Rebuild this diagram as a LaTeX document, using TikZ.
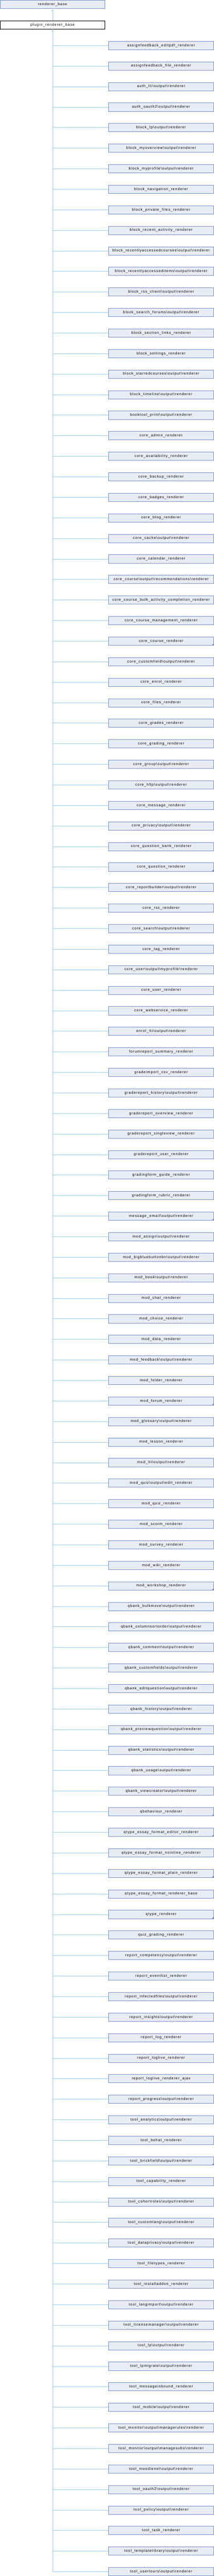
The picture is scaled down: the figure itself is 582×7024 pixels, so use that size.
\documentclass[tikz,border=0pt]{standalone}
\usepackage{fontspec}
\setmainfont[LetterSpace=12]{Liberation Sans}
\usetikzlibrary{arrows.meta}
\definecolor{boxfill}{RGB}{232,236,245}
\definecolor{boxline}{RGB}{122,146,200}
\definecolor{connline}{RGB}{155,205,234}
\newcommand{\bsl}{\textbackslash}
\begin{document}
\begin{tikzpicture}[x=1pt,y=-1pt,
  cls/.style={draw=boxline, fill=boxfill, line width=1pt, minimum width=285.3pt,
    minimum height=22.6pt, inner sep=0pt, font=\fontsize{10pt}{12pt}\selectfont, text=black},
  cur/.style={cls, draw=black, fill=white},
  conn/.style={draw=connline, line width=1pt},
  tip/.style={{Triangle[width=5pt,length=4.5pt]}-}]
\useasboundingbox (0,0) rectangle (582,7024);
\node[cls] (rb) at (143.15,12) {renderer\_base};
\node[cur] (prb) at (143.15,68) {plugin\_renderer\_base};
\draw[conn,tip] ([yshift=-1.5pt]rb.south) -- (prb.north);
\foreach \t/\m [count=\i from 0] in {
assignfeedback\_editpdf\_renderer/0,
assignfeedback\_file\_renderer/0,
auth\_lti\bsl output\bsl renderer/0,
auth\_oauth2\bsl output\bsl renderer/0,
block\_lp\bsl output\bsl renderer/0,
block\_myoverview\bsl output\bsl renderer/0,
block\_myprofile\bsl output\bsl renderer/0,
block\_navigation\_renderer/0,
block\_private\_files\_renderer/0,
block\_recent\_activity\_renderer/0,
block\_recentlyaccessedcourses\bsl output\bsl renderer/0,
block\_recentlyaccesseditems\bsl output\bsl renderer/0,
block\_rss\_client\bsl output\bsl renderer/0,
block\_search\_forums\bsl output\bsl renderer/0,
block\_section\_links\_renderer/0,
block\_settings\_renderer/0,
block\_starredcourses\bsl output\bsl renderer/0,
block\_timeline\bsl output\bsl renderer/0,
booktool\_print\bsl output\bsl renderer/0,
core\_admin\_renderer/0,
core\_availability\_renderer/0,
core\_backup\_renderer/0,
core\_badges\_renderer/0,
core\_blog\_renderer/0,
core\_cache\bsl output\bsl renderer/0,
core\_calendar\_renderer/0,
core\_course\bsl output\bsl recommendations\bsl renderer/0,
core\_course\_bulk\_activity\_completion\_renderer/0,
core\_course\_management\_renderer/0,
core\_course\_renderer/1,
core\_customfield\bsl output\bsl renderer/0,
core\_enrol\_renderer/0,
core\_files\_renderer/0,
core\_grades\_renderer/0,
core\_grading\_renderer/0,
core\_group\bsl output\bsl renderer/0,
core\_h5p\bsl output\bsl renderer/0,
core\_message\_renderer/0,
core\_privacy\bsl output\bsl renderer/0,
core\_question\_bank\_renderer/0,
core\_question\_renderer/1,
core\_reportbuilder\bsl output\bsl renderer/0,
core\_rss\_renderer/0,
core\_search\bsl output\bsl renderer/0,
core\_tag\_renderer/0,
core\_user\bsl output\bsl myprofile\bsl renderer/0,
core\_user\_renderer/0,
core\_webservice\_renderer/0,
enrol\_lti\bsl output\bsl renderer/0,
forumreport\_summary\_renderer/0,
gradeimport\_csv\_renderer/0,
gradereport\_history\bsl output\bsl renderer/0,
gradereport\_overview\_renderer/0,
gradereport\_singleview\_renderer/0,
gradereport\_user\_renderer/0,
gradingform\_guide\_renderer/0,
gradingform\_rubric\_renderer/0,
message\_email\bsl output\bsl renderer/1,
mod\_assign\bsl output\bsl renderer/0,
mod\_bigbluebuttonbn\bsl output\bsl renderer/0,
mod\_book\bsl output\bsl renderer/0,
mod\_chat\_renderer/0,
mod\_choice\_renderer/0,
mod\_data\_renderer/0,
mod\_feedback\bsl output\bsl renderer/0,
mod\_folder\_renderer/0,
mod\_forum\_renderer/1,
mod\_glossary\bsl output\bsl renderer/0,
mod\_lesson\_renderer/0,
mod\_lti\bsl output\bsl renderer/0,
mod\_quiz\bsl output\bsl edit\_renderer/0,
mod\_quiz\_renderer/0,
mod\_scorm\_renderer/0,
mod\_survey\_renderer/0,
mod\_wiki\_renderer/0,
mod\_workshop\_renderer/1,
qbank\_bulkmove\bsl output\bsl renderer/0,
qbank\_columnsortorder\bsl output\bsl renderer/0,
qbank\_comment\bsl output\bsl renderer/0,
qbank\_customfields\bsl output\bsl renderer/0,
qbank\_editquestion\bsl output\bsl renderer/0,
qbank\_history\bsl output\bsl renderer/0,
qbank\_previewquestion\bsl output\bsl renderer/0,
qbank\_statistics\bsl output\bsl renderer/0,
qbank\_usage\bsl output\bsl renderer/0,
qbank\_viewcreator\bsl output\bsl renderer/0,
qbehaviour\_renderer/1,
qtype\_essay\_format\_editor\_renderer/1,
qtype\_essay\_format\_noinline\_renderer/0,
qtype\_essay\_format\_plain\_renderer/1,
qtype\_essay\_format\_renderer\_base/0,
qtype\_renderer/1,
quiz\_grading\_renderer/0,
report\_competency\bsl output\bsl renderer/0,
report\_eventlist\_renderer/0,
report\_infectedfiles\bsl output\bsl renderer/0,
report\_insights\bsl output\bsl renderer/0,
report\_log\_renderer/0,
report\_loglive\_renderer/0,
report\_loglive\_renderer\_ajax/0,
report\_progress\bsl output\bsl renderer/0,
tool\_analytics\bsl output\bsl renderer/0,
tool\_behat\_renderer/0,
tool\_brickfield\bsl output\bsl renderer/1,
tool\_capability\_renderer/0,
tool\_cohortroles\bsl output\bsl renderer/0,
tool\_customlang\bsl output\bsl renderer/0,
tool\_dataprivacy\bsl output\bsl renderer/0,
tool\_filetypes\_renderer/0,
tool\_installaddon\_renderer/0,
tool\_langimport\bsl output\bsl renderer/0,
tool\_licensemanager\bsl output\bsl renderer/0,
tool\_lp\bsl output\bsl renderer/0,
tool\_lpmigrate\bsl output\bsl renderer/0,
tool\_messageinbound\_renderer/0,
tool\_mobile\bsl output\bsl renderer/0,
tool\_monitor\bsl output\bsl managerules\bsl renderer/0,
tool\_monitor\bsl output\bsl managesubs\bsl renderer/0,
tool\_moodlenet\bsl output\bsl renderer/0,
tool\_oauth2\bsl output\bsl renderer/0,
tool\_policy\bsl output\bsl renderer/0,
tool\_task\_renderer/0,
tool\_templatelibrary\bsl output\bsl renderer/0,
tool\_usertours\bsl output\bsl renderer/0}{
  \node[cls] (c\i) at (438.85,124+56*\i) {\t};
  \draw[conn] (prb.south) |- (c\i.west);
  \ifnum\m=1
    \fill[boxline] ([xshift=-5pt,yshift=0.5pt]c\i.south east) -- ([xshift=-0.5pt,yshift=0.5pt]c\i.south east) -- ([xshift=-0.5pt,yshift=5pt]c\i.south east) -- cycle;
  \fi
}
\draw[conn,tip] ([yshift=-1.5pt]prb.south) -- ++(0,8);
\end{tikzpicture}
\end{document}
